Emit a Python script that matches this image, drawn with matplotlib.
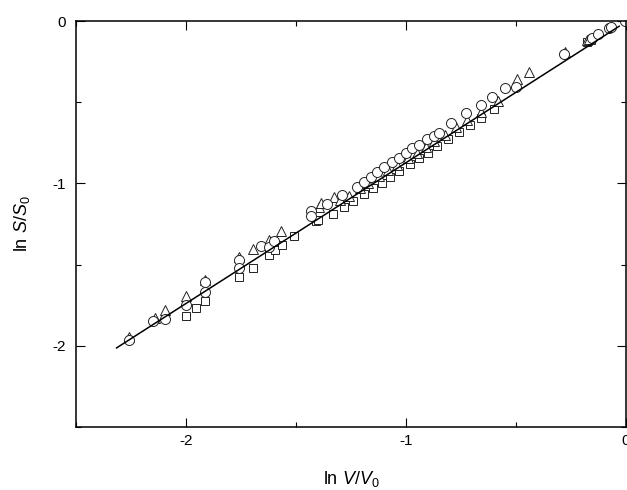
import matplotlib
matplotlib.use("Agg")
import matplotlib.pyplot as plt
from matplotlib.ticker import MultipleLocator

plt.rcParams['font.family'] = ['Liberation Sans', 'DejaVu Sans']
plt.rcParams['mathtext.fontset'] = 'custom'
plt.rcParams['mathtext.rm'] = 'Liberation Sans'
plt.rcParams['mathtext.it'] = 'Liberation Sans:italic'

# ---- data (ln V/V0, ln S/S0) ----
circle_x = [-2.258, -2.149, -2.096, -2.001, -1.913, -1.913, -1.759, -1.759,
            -1.658, -1.623, -1.598, -1.430, -1.430, -1.356,
            -1.288, -1.220, -1.189, -1.159, -1.129, -1.099, -1.061, -1.031,
            -1.000, -0.970, -0.940, -0.902, -0.872, -0.849, -0.796, -0.728,
            -0.660, -0.607, -0.547, -0.501,
            -0.282, -0.154, -0.124, -0.078, -0.065, -0.005]
circle_y = [-1.963, -1.846, -1.834, -1.748, -1.668, -1.609, -1.471, -1.520,
            -1.388, -1.393, -1.358, -1.169, -1.203, -1.128,
            -1.071, -1.020, -0.989, -0.958, -0.927, -0.900, -0.866, -0.845,
            -0.814, -0.783, -0.763, -0.728, -0.708, -0.691, -0.630, -0.568,
            -0.517, -0.466, -0.410, -0.404,
            -0.205, -0.106, -0.082, -0.045, -0.035, 0.000]

triangle_x = [-2.258, -2.142, -2.096, -2.001, -1.913, -1.759, -1.693, -1.623,
              -1.567, -1.393, -1.386, -1.325,
              -1.30, -1.26, -1.21, -1.17, -1.12, -1.08, -1.04, -0.99,
              -0.95, -0.91, -0.87, -0.82, -0.77, -0.72, -0.66, -0.58,
              -0.494, -0.438, -0.275, -0.178, -0.165]
triangle_y = [-1.945, -1.828, -1.783, -1.697, -1.594, -1.455, -1.405, -1.348,
              -1.292, -1.143, -1.118, -1.081,
              -1.100, -1.075, -1.030, -0.995, -0.955, -0.920, -0.885, -0.845,
              -0.810, -0.775, -0.740, -0.700, -0.655, -0.610, -0.560, -0.495,
              -0.357, -0.316, -0.189, -0.117, -0.108]

square_x = [-2.001, -1.956, -1.913, -1.759, -1.693, -1.623, -1.593, -1.563,
            -1.507, -1.408, -1.401,
            -1.33, -1.28, -1.24, -1.19, -1.15, -1.11, -1.07, -1.03, -0.98,
            -0.94, -0.90, -0.86, -0.81, -0.76, -0.71, -0.66, -0.60,
            -0.176, -0.160]
square_y = [-1.820, -1.768, -1.723, -1.577, -1.522, -1.440, -1.409, -1.378,
            -1.326, -1.235, -1.225,
            -1.190, -1.145, -1.110, -1.065, -1.030, -0.995, -0.960, -0.925,
            -0.880, -0.845, -0.810, -0.772, -0.728, -0.685, -0.640, -0.595,
            -0.540, -0.127, -0.115]

fit_x = [-2.315, -0.03]
fit_y = [-2.014, -0.032]

# ---- plot ----
fig = plt.figure(figsize=(6.27, 4.9), dpi=100)
ax = fig.add_axes([0.121, 0.129, 0.877, 0.828])

mk = dict(linestyle='none', markerfacecolor='white', markeredgecolor='#222222',
          markeredgewidth=0.7)
ax.plot(square_x, square_y, marker='s', markersize=6.2, **mk)
ax.plot(triangle_x, triangle_y, marker='^', markersize=7.5, **mk)
ax.plot(circle_x, circle_y, marker='o', markersize=7.2, **mk)
ax.plot(fit_x, fit_y, color='black', linewidth=1.1)

ax.set_xlim(-2.5, 0)
ax.set_ylim(-2.5, 0)
ax.xaxis.set_minor_locator(MultipleLocator(0.5))
ax.yaxis.set_minor_locator(MultipleLocator(0.5))
ax.set_xticks([-2, -1, 0])
ax.set_yticks([-2, -1, 0])
ax.set_xticklabels(['-2', '-1', '0'])
ax.set_yticklabels(['-2', '-1', '0'])

ax.tick_params(which='both', direction='in', top=True, right=True, width=0.8)
ax.tick_params(which='major', length=6.5, labelsize=11)
ax.tick_params(which='minor', length=3.5)
ax.tick_params(axis='x', pad=5)
ax.tick_params(axis='y', pad=7)
for s in ax.spines.values():
    s.set_linewidth(1.1)

ax.set_xlabel(r'ln $\mathit{V/V_0}$', fontsize=13, labelpad=15)
ax.set_ylabel(r'ln $\mathit{S/S_0}$', fontsize=13, labelpad=15)

fig.savefig('out.png', dpi=100)
